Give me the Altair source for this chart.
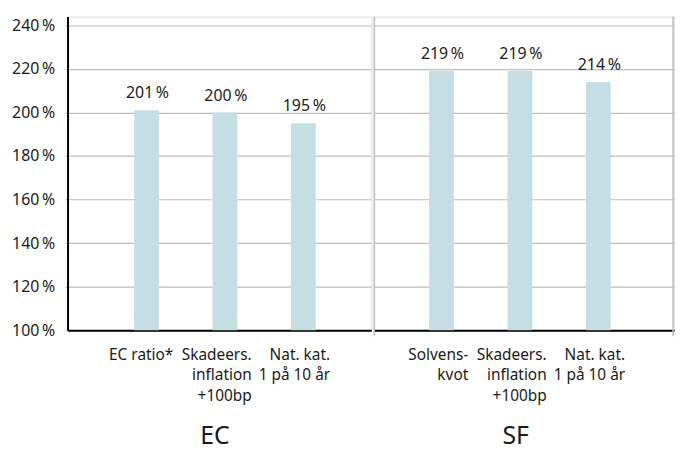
import altair as alt
import pandas as pd

groups = ["EC", "EC", "EC", "SF", "SF", "SF"]
categories = [
    "EC ratio*",
    "Skadeers.|inflation|+100bp",
    "Nat. kat.|1 på 10 år",
    "Solvens-|kvot",
    "Skadeers.|inflation|+100bp",
    "Nat. kat.|1 på 10 år",
]
values = [201, 200, 195, 219, 219, 214]
value_labels = ["201\u2009%", "200\u2009%", "195\u2009%", "219\u2009%", "219\u2009%", "214\u2009%"]
y_ticks = [100, 120, 140, 160, 180, 200, 220, 240]

df = pd.DataFrame({"group": groups, "category": categories,
                   "value": values, "label": value_labels})

FONT = "Noto Sans"
BAR = "#c5dee4"
GRID = "#bdbdbd"
TXT = "#1a1a1a"
H = 316


def panel(group, width, pad_outer, align, title_x, first):
    d = df[df["group"] == group]
    x = alt.X(
        "category:N", sort=None,
        scale=alt.Scale(paddingInner=0.684, paddingOuter=pad_outer, align=align),
        axis=alt.Axis(
            title=group, labelAngle=0, labelExpr="split(datum.label, '|')",
            labelAlign="right", labelOffset=27, labelBaseline="top", labelPadding=17,
            labelLineHeight=21, labelFontSize=15.5, labelColor=TXT, labelFont=FONT,
            ticks=False, domainColor="black", domainWidth=2,
            titleFontSize=25, titleFontWeight="normal", titleFont=FONT,
            titleColor=TXT, titlePadding=20, titleX=title_x, titleAlign="center",
        ),
    )
    if first:
        yaxis = alt.Axis(
            title=None, values=y_ticks, labelExpr="datum.value + '\u2009%'",
            labelFontSize=16, labelFont=FONT, labelColor=TXT, labelPadding=10,
            grid=True, gridColor=GRID, gridWidth=1.2, domainColor="black",
            domainWidth=2, tickColor=GRID, tickSize=3,
        )
    else:
        yaxis = alt.Axis(
            title=None, values=y_ticks, labels=False, ticks=False, domain=False,
            grid=True, gridColor=GRID, gridWidth=1.2,
        )
    y = alt.Y("value:Q", scale=alt.Scale(domain=[100, 244], nice=False, zero=False),
              axis=yaxis)
    base = alt.Chart(d)
    bars = base.mark_bar(color=BAR).encode(x=x, y=y, y2=alt.datum(100))
    text = base.mark_text(font=FONT, fontSize=16, color=TXT, baseline="alphabetic",
                          dy=-12, dx=1).encode(x=x, y=y, text="label:N")
    layers = [bars, text]
    if not first:
        rule_df = pd.DataFrame({"k": [0]})
        r1 = alt.Chart(rule_df).mark_rule(color=GRID, strokeWidth=1.5).encode(
            x=alt.value(0), y=alt.value(0), y2=alt.value(H + 6))
        r2 = alt.Chart(rule_df).mark_rule(color=GRID, strokeWidth=1.5).encode(
            x=alt.value(width - 1), y=alt.value(0), y2=alt.value(H + 6))
        layers = [r1, r2, bars, text]
    return alt.layer(*layers).properties(width=width, height=H)


left = panel("EC", 306, 0.779, 0.545, 148, True)
right = panel("SF", 302, 0.753, 0.464, 142, False)

chart = alt.hconcat(left, right, spacing=0).properties(
    padding={"left": 3, "top": 5, "right": 0, "bottom": 0}
).configure_view(stroke=None).configure(background="white")

chart.save("out.html", embed_options={"renderer": "svg", "actions": False})
